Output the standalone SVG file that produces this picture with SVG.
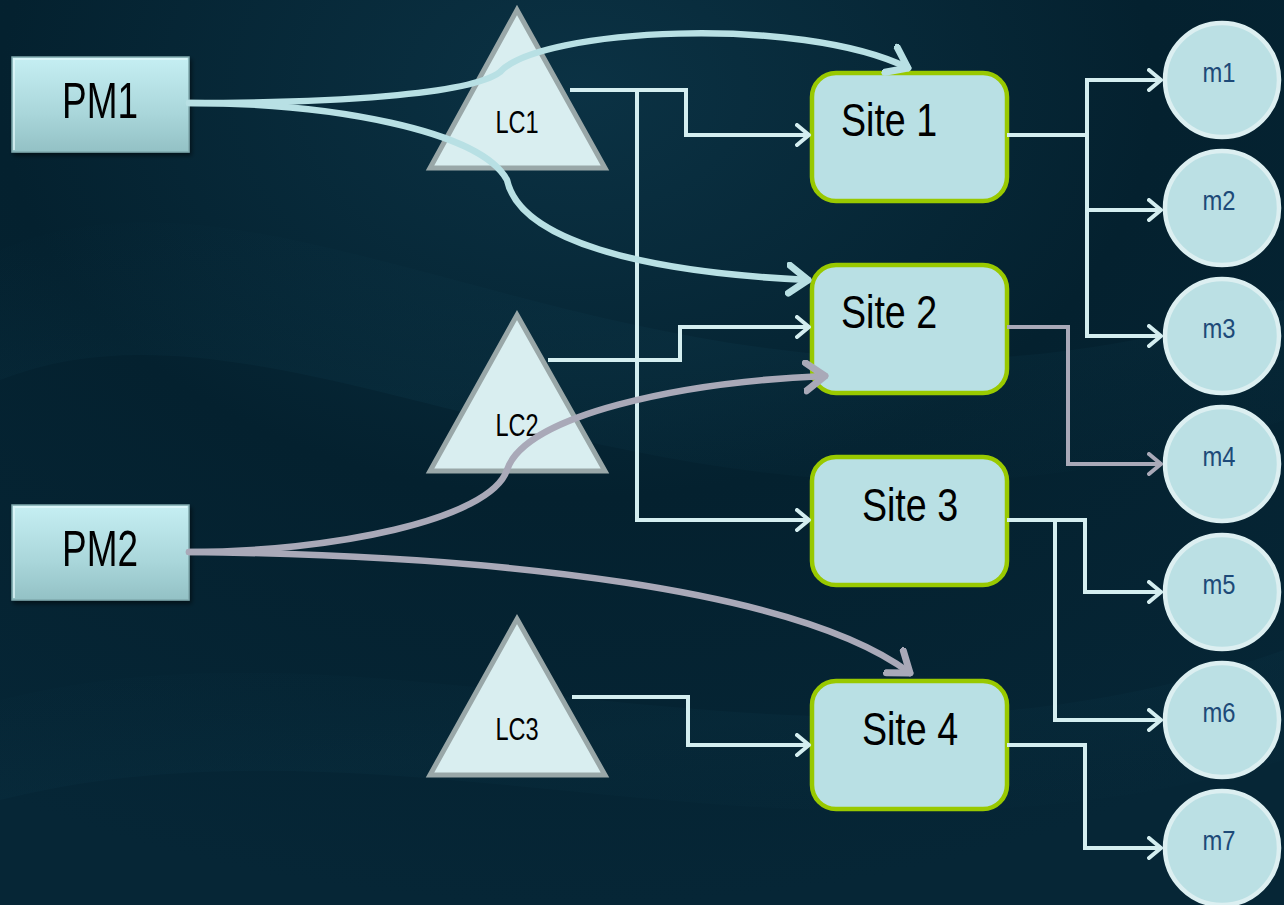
<svg xmlns="http://www.w3.org/2000/svg" width="1284" height="905" viewBox="0 0 1284 905">
<defs>
<radialGradient id="bg" cx="0.45" cy="0.1" r="0.9">
<stop offset="0" stop-color="#0b3244"/>
<stop offset="0.5" stop-color="#04212f"/>
<stop offset="1" stop-color="#062636"/>
</radialGradient>
<linearGradient id="streak" x1="0" y1="0" x2="1" y2="1">
<stop offset="0" stop-color="#0e3a4c" stop-opacity="0"/>
<stop offset="0.5" stop-color="#0e3a4c" stop-opacity="0.45"/>
<stop offset="1" stop-color="#0e3a4c" stop-opacity="0"/>
</linearGradient>
<linearGradient id="pmfill" x1="0" y1="0" x2="0" y2="1">
<stop offset="0" stop-color="#c6eff3"/>
<stop offset="0.6" stop-color="#a9d6da"/>
<stop offset="1" stop-color="#93c1c5"/>
</linearGradient>
<filter id="sh" x="-10%" y="-10%" width="130%" height="130%">
<feDropShadow dx="2" dy="3" stdDeviation="2" flood-color="#000" flood-opacity="0.5"/>
</filter>
<marker id="aT" markerUnits="userSpaceOnUse" markerWidth="24" markerHeight="26" refX="14" refY="12" orient="auto" viewBox="0 0 24 26">
<path d="M2,2 L14,12 L2,22" fill="none" stroke="#d4eef0" stroke-width="4" stroke-linecap="round" stroke-linejoin="round"/>
</marker>
<marker id="aTg" markerUnits="userSpaceOnUse" markerWidth="24" markerHeight="26" refX="14" refY="12" orient="auto" viewBox="0 0 24 26">
<path d="M2,2 L14,12 L2,22" fill="none" stroke="#a9a9b8" stroke-width="4" stroke-linecap="round" stroke-linejoin="round"/>
</marker>
<marker id="aC" markerUnits="userSpaceOnUse" markerWidth="34" markerHeight="36" refX="22" refY="17" orient="auto" viewBox="0 0 34 36">
<path d="M3,3 L22,17 L3,31" fill="none" stroke="#b8e0e4" stroke-width="7" stroke-linecap="round" stroke-linejoin="round"/>
</marker>
<marker id="aCg" markerUnits="userSpaceOnUse" markerWidth="34" markerHeight="36" refX="22" refY="17" orient="auto" viewBox="0 0 34 36">
<path d="M3,3 L22,17 L3,31" fill="none" stroke="#a9a9b8" stroke-width="7" stroke-linecap="round" stroke-linejoin="round"/>
</marker>
</defs>
<style>
.pm{fill:url(#pmfill);stroke:#7fa8ac;stroke-width:1.5}
.bev{fill:none;stroke:#e2fafc;stroke-width:2;opacity:0.7}
.tri{fill:#d9eef0;stroke:#99a7a8;stroke-width:5;stroke-linejoin:miter}
.site{fill:#b9e0e4;stroke:#99c900;stroke-width:4.5}
.circ{fill:#bbe0e4;stroke:#dceff1;stroke-width:4.5}
.t{font-family:"Liberation Sans",Arial,sans-serif;fill:#000}
.pmt{font-size:50px}
.st{font-size:47px}
.lc{font-size:31px}
.ml{font-family:"Liberation Sans",Arial,sans-serif;font-size:28px;fill:#1d4a78}
.w{fill:none;stroke:#d4eef0;stroke-width:4;stroke-linejoin:miter}
.wg{fill:none;stroke:#a9a9b8;stroke-width:4}
.c{fill:none;stroke:#b8e0e4;stroke-width:6.5;stroke-linecap:round}
.cg{fill:none;stroke:#a9a9b8;stroke-width:6.5;stroke-linecap:round}
</style>
<rect width="1284" height="905" fill="url(#bg)"/>
<path d="M0,250 C300,120 700,500 1284,300 L1284,420 C700,620 300,260 0,380 Z" fill="url(#streak)" opacity="0.6"/>
<path d="M0,700 C400,600 800,820 1284,650 L1284,760 C800,900 400,700 0,800 Z" fill="url(#streak)" opacity="0.4"/>

<g id="PM1" filter="url(#sh)">
<rect class="pm" x="12" y="57" width="177" height="95"/>
<path class="bev" d="M14,150 V59 H187"/>
<text class="t pmt" transform="matrix(0.74,0,0,1,100,118)" text-anchor="middle">PM1</text>
</g>
<g id="PM2" filter="url(#sh)">
<rect class="pm" x="12" y="505" width="177" height="95"/>
<path class="bev" d="M14,598 V507 H187"/>
<text class="t pmt" transform="matrix(0.74,0,0,1,100,566)" text-anchor="middle">PM2</text>
</g>
<g id="LC1">
<polygon class="tri" points="517,10 605,168 430,168"/>
<text class="t lc" transform="matrix(0.76,0,0,1,517,133)" text-anchor="middle">LC1</text>
</g>
<g id="LC2">
<polygon class="tri" points="517,315 605,471 430,471"/>
<text class="t lc" transform="matrix(0.76,0,0,1,517,436)" text-anchor="middle">LC2</text>
</g>
<g id="LC3">
<polygon class="tri" points="517,619 605,775 430,775"/>
<text class="t lc" transform="matrix(0.76,0,0,1,517,740)" text-anchor="middle">LC3</text>
</g>
<g id="Site1">
<rect class="site" x="812" y="73" width="195" height="128" rx="24"/>
<text class="t st" transform="matrix(0.8,0,0,1,841,136)">Site 1</text>
</g>
<g id="Site2">
<rect class="site" x="812" y="265" width="195" height="128" rx="24"/>
<text class="t st" transform="matrix(0.8,0,0,1,841,328)">Site 2</text>
</g>
<g id="Site3">
<rect class="site" x="812" y="457" width="195" height="128" rx="24"/>
<text class="t st" transform="matrix(0.8,0,0,1,910,521)" text-anchor="middle">Site 3</text>
</g>
<g id="Site4">
<rect class="site" x="812" y="681" width="195" height="128" rx="24"/>
<text class="t st" transform="matrix(0.8,0,0,1,910,745)" text-anchor="middle">Site 4</text>
</g>
<g id="m1"><circle class="circ" cx="1222" cy="80" r="57"/><text class="ml" transform="matrix(0.85,0,0,1,1219,82)" text-anchor="middle">m1</text></g>
<g id="m2"><circle class="circ" cx="1222" cy="208" r="57"/><text class="ml" transform="matrix(0.85,0,0,1,1219,210)" text-anchor="middle">m2</text></g>
<g id="m3"><circle class="circ" cx="1222" cy="336" r="57"/><text class="ml" transform="matrix(0.85,0,0,1,1219,338)" text-anchor="middle">m3</text></g>
<g id="m4"><circle class="circ" cx="1222" cy="464" r="57"/><text class="ml" transform="matrix(0.85,0,0,1,1219,466)" text-anchor="middle">m4</text></g>
<g id="m5"><circle class="circ" cx="1222" cy="592" r="57"/><text class="ml" transform="matrix(0.85,0,0,1,1219,594)" text-anchor="middle">m5</text></g>
<g id="m6"><circle class="circ" cx="1222" cy="720" r="57"/><text class="ml" transform="matrix(0.85,0,0,1,1219,722)" text-anchor="middle">m6</text></g>
<g id="m7"><circle class="circ" cx="1222" cy="848" r="57"/><text class="ml" transform="matrix(0.85,0,0,1,1219,850)" text-anchor="middle">m7</text></g>

<g id="connectors">
<path class="w" d="M570,90 H686 V135 H809" marker-end="url(#aT)"/>
<path class="w" d="M637,90 V520 H809" marker-end="url(#aT)"/>
<path class="w" d="M548,360 H680 V327 H809" marker-end="url(#aT)"/>
<path class="w" d="M572,697 H688 V745 H809" marker-end="url(#aT)"/>
<path class="w" d="M1007,135 H1087 V80 H1161" marker-end="url(#aT)"/>
<path class="w" d="M1087,135 V210 H1161" marker-end="url(#aT)"/>
<path class="w" d="M1087,205 V336 H1161" marker-end="url(#aT)"/>
<path class="wg" d="M1007,327 H1068 V464 H1161" marker-end="url(#aTg)"/>
<path class="w" d="M1007,520 H1085 V592 H1161" marker-end="url(#aT)"/>
<path class="w" d="M1055,520 V720 H1161" marker-end="url(#aT)"/>
<path class="w" d="M1007,745 H1085 V848 H1161" marker-end="url(#aT)"/>
<path class="c" d="M189,103 C330,103 470,95 500,72 C540,28 800,15 908,68" marker-end="url(#aC)"/>
<path class="c" d="M189,103 C330,103 480,130 507,180 C520,240 640,272 808,280" marker-end="url(#aC)"/>
<path class="cg" d="M189,552 C330,552 490,520 507,470 C525,415 680,382 825,376" marker-end="url(#aCg)"/>
<path class="cg" d="M189,552 C500,555 800,590 910,673" marker-end="url(#aCg)"/>
</g>
</svg>
